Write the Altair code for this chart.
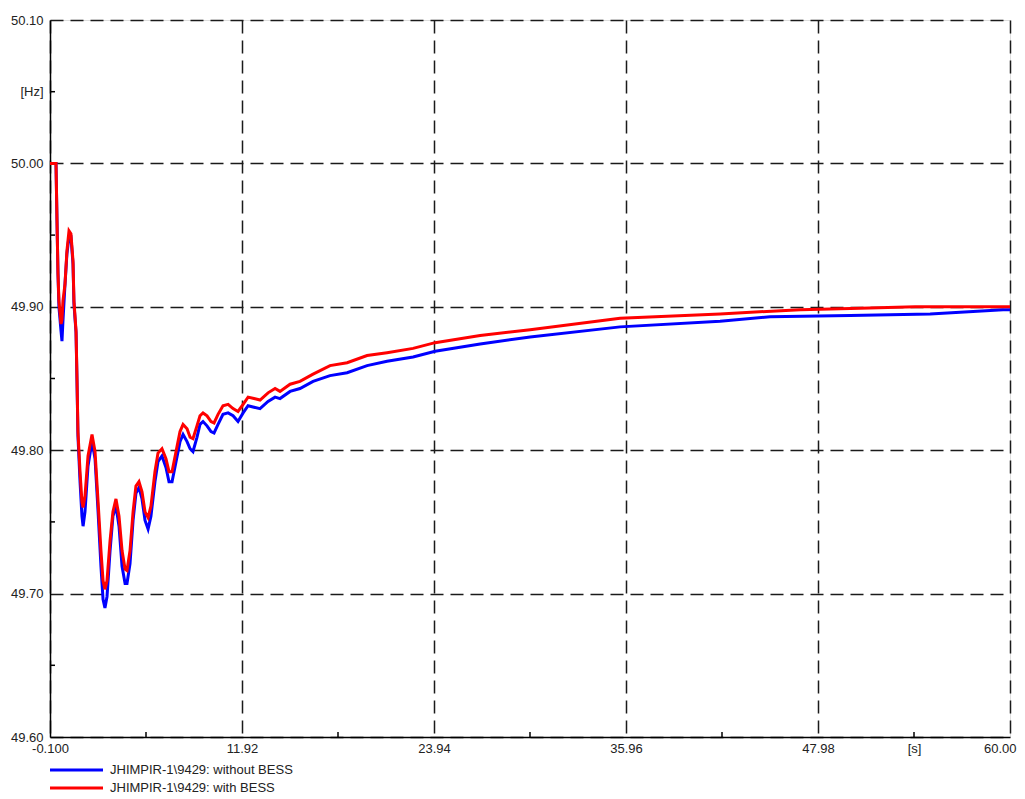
import altair as alt
import pandas as pd

# ---- data ----
t_red = [-0.1, 0.276, 0.338, 0.40, 0.46, 0.59, 0.65, 0.71, 0.84, 0.96, 1.09, 1.21, 1.34, 1.40, 1.53, 1.59,
         1.65, 1.78, 1.90, 1.97, 2.09, 2.28, 2.53, 2.72, 2.91, 3.09, 3.22, 3.34, 3.47, 3.66, 3.84, 4.03,
         4.22, 4.41, 4.60, 4.72, 4.91, 5.10, 5.28, 5.47, 5.66, 5.85, 6.04, 6.22, 6.47, 6.66, 6.91, 7.16,
         7.35, 7.54, 7.79, 8.04, 8.23, 8.48, 8.67, 8.85, 9.10, 9.29, 9.48, 9.73, 9.98, 10.17, 10.42, 10.73,
         11.05, 11.36, 11.67, 11.99, 12.30, 12.67, 13.05, 13.55, 13.99, 14.30, 14.93, 15.55, 16.37, 17.43,
         18.50, 19.75, 21.00, 22.63, 24.01, 26.83, 29.96, 35.59, 41.85, 46.86, 50.62, 54.06, 60.0]
f_red = [50.000, 50.000, 49.960, 49.923, 49.904, 49.888, 49.891, 49.904, 49.916, 49.939, 49.953, 49.951,
         49.932, 49.904, 49.883, 49.850, 49.813, 49.785, 49.764, 49.760, 49.768, 49.796, 49.811, 49.799,
         49.764, 49.730, 49.709, 49.703, 49.709, 49.737, 49.757, 49.766, 49.754, 49.730, 49.717, 49.716,
         49.730, 49.757, 49.775, 49.778, 49.771, 49.757, 49.753, 49.761, 49.785, 49.798, 49.801, 49.794,
         49.785, 49.785, 49.799, 49.813, 49.818, 49.815, 49.809, 49.808, 49.817, 49.824, 49.826, 49.824,
         49.820, 49.819, 49.825, 49.831, 49.832, 49.829, 49.827, 49.832, 49.837, 49.836, 49.835, 49.840,
         49.843, 49.841, 49.846, 49.848, 49.853, 49.859, 49.861, 49.866, 49.868, 49.871, 49.875, 49.880,
         49.884, 49.892, 49.895, 49.898, 49.899, 49.900, 49.900]

t_blue = [-0.1, 0.276, 0.338, 0.40, 0.46, 0.59, 0.65, 0.71, 0.84, 0.96, 1.09, 1.21, 1.34, 1.40, 1.53, 1.59,
          1.65, 1.78, 1.90, 1.97, 2.09, 2.28, 2.53, 2.72, 2.91, 3.09, 3.22, 3.34, 3.47, 3.66, 3.84, 4.03,
          4.22, 4.41, 4.60, 4.72, 4.91, 5.10, 5.28, 5.47, 5.66, 5.85, 6.04, 6.22, 6.47, 6.66, 6.91, 7.16,
          7.35, 7.54, 7.79, 8.04, 8.23, 8.48, 8.67, 8.85, 9.10, 9.29, 9.48, 9.73, 9.98, 10.17, 10.42, 10.73,
          11.05, 11.36, 11.67, 11.99, 12.30, 12.67, 13.05, 13.55, 13.99, 14.30, 14.93, 15.55, 16.37, 17.43,
          18.50, 19.75, 21.00, 22.63, 24.01, 26.83, 29.96, 35.59, 41.85, 44.98, 49.99, 55.00, 59.57, 60.0]
f_blue = [50.000, 50.000, 49.960, 49.923, 49.900, 49.883, 49.876, 49.890, 49.916, 49.937, 49.949, 49.949,
          49.930, 49.902, 49.882, 49.848, 49.810, 49.778, 49.754, 49.747, 49.757, 49.789, 49.806, 49.794,
          49.757, 49.719, 49.696, 49.690, 49.698, 49.730, 49.754, 49.761, 49.747, 49.719, 49.707, 49.707,
          49.721, 49.751, 49.770, 49.774, 49.766, 49.751, 49.745, 49.754, 49.778, 49.792, 49.796, 49.788,
          49.778, 49.778, 49.792, 49.806, 49.811, 49.806, 49.801, 49.799, 49.809, 49.818, 49.820, 49.817,
          49.813, 49.812, 49.818, 49.825, 49.826, 49.824, 49.820, 49.826, 49.831, 49.830, 49.829, 49.834,
          49.837, 49.836, 49.841, 49.843, 49.848, 49.852, 49.854, 49.859, 49.862, 49.865, 49.869, 49.874,
          49.879, 49.886, 49.890, 49.893, 49.894, 49.895, 49.898, 49.898]

series_names = ["JHIMPIR-1\\9429: without BESS", "JHIMPIR-1\\9429: with BESS"]
series_colors = ["#0000ff", "#ff0000"]

x_ticks = [-0.1, 5.91, 11.92, 17.93, 23.94, 29.95, 35.96, 41.97, 47.98, 53.99, 60.0]
y_ticks = [49.6, 49.65, 49.7, 49.75, 49.8, 49.85, 49.9, 49.95, 50.0, 50.05, 50.1]
x_minor = [5.91, 17.93, 29.95, 41.97, 53.99]
y_minor = [49.65, 49.75, 49.85, 49.95, 50.05]

rows = []
for t, f in zip(t_blue, f_blue):
    rows.append({"t": t, "f": f, "series": series_names[0], "order": 0})
for t, f in zip(t_red, f_red):
    rows.append({"t": t, "f": f, "series": series_names[1], "order": 1})
df = pd.DataFrame(rows)

W, H = 960, 717
FONT = "Liberation Sans"
FS = 13
GRID_COLOR = "#1a1a1a"
TEXT_COLOR = "#222222"

x_scale = alt.Scale(domain=[-0.1, 60.0], nice=False, zero=False)
y_scale = alt.Scale(domain=[49.6, 50.1], nice=False, zero=False)

x_axis = alt.Axis(
    values=x_ticks,
    labelExpr="abs(datum.value-53.99)<0.01 ? '[s]' : (abs((datum.value+0.1)/12.02 - round((datum.value+0.1)/12.02)) > 0.1 ? '' : (datum.value < 0 ? '-0.100' : format(datum.value, '.2f')))",
    labelAlign={"condition": {"test": "datum.value > 59", "value": "right"}, "value": "center"},
    labelOffset={"condition": {"test": "datum.value > 59", "value": 6}, "value": 0},
    grid=True,
    gridOpacity={"condition": {"test": "abs((datum.value+0.1)/12.02 - round((datum.value+0.1)/12.02)) > 0.1", "value": 0}, "value": 1},
    gridColor=GRID_COLOR, gridDash=[13, 7], gridWidth=1.5,
    ticks=False, labelPadding=5, labelFont=FONT, labelFontSize=FS, labelColor=TEXT_COLOR,
    labelFlush=False, labelOverlap=False,
    domainColor="#000000", domainWidth=1.5, title=None,
)
y_axis = alt.Axis(
    values=y_ticks,
    labelExpr="abs(datum.value-50.05)<0.001 ? '[Hz]' : (abs(datum.value*10 - round(datum.value*10)) > 0.1 ? '' : format(datum.value, '.2f'))",
    grid=True,
    gridOpacity={"condition": {"test": "abs(datum.value*10 - round(datum.value*10)) > 0.1", "value": 0}, "value": 1},
    gridColor=GRID_COLOR, gridDash=[13, 7], gridWidth=1.5,
    ticks=False, labelPadding=7, labelFont=FONT, labelFontSize=FS, labelColor=TEXT_COLOR,
    labelFlush=False, labelOverlap=False,
    domainColor="#000000", domainWidth=1.5, title=None,
)

lines = alt.Chart(df).mark_line(strokeWidth=3, interpolate="linear").encode(
    x=alt.X("t:Q", scale=x_scale, axis=x_axis),
    y=alt.Y("f:Q", scale=y_scale, axis=y_axis),
    color=alt.Color("series:N", scale=alt.Scale(domain=series_names, range=series_colors), legend=None),
    order=alt.Order("order:Q"),
)

ymin_df = pd.DataFrame({"v": y_minor})
xmin_df = pd.DataFrame({"v": x_minor})
y_minor_ticks = alt.Chart(ymin_df).mark_rule(color="#000000", strokeWidth=1.5).encode(
    y=alt.Y("v:Q", scale=y_scale), x=alt.value(0), x2=alt.value(5)
)
x_minor_ticks = alt.Chart(xmin_df).mark_rule(color="#000000", strokeWidth=1.5).encode(
    x=alt.X("v:Q", scale=x_scale), y=alt.value(H), y2=alt.value(H - 5)
)

# manual legend below the plot
legend_layers = []
for i, (name, col) in enumerate(zip(series_names, series_colors)):
    ly = H + 33 + i * 18
    ldf = pd.DataFrame({"series": [name]})
    legend_layers.append(
        alt.Chart(ldf).mark_rule(color=col, strokeWidth=3).encode(
            x=alt.value(0), x2=alt.value(53), y=alt.value(ly)
        )
    )
    legend_layers.append(
        alt.Chart(ldf).mark_text(align="left", baseline="middle", font=FONT, fontSize=FS,
                                 color=TEXT_COLOR).encode(
            x=alt.value(60), y=alt.value(ly), text="series:N"
        )
    )

chart = alt.layer(lines, y_minor_ticks, x_minor_ticks, *legend_layers).properties(
    width=W, height=H,
    autosize=alt.AutoSizeParams(type="none"),
    padding={"left": 42, "top": 12, "right": 7, "bottom": 60},
).configure_view(stroke=None).configure(background="white")

chart.save("out.html", embed_options={"renderer": "svg", "actions": False})
